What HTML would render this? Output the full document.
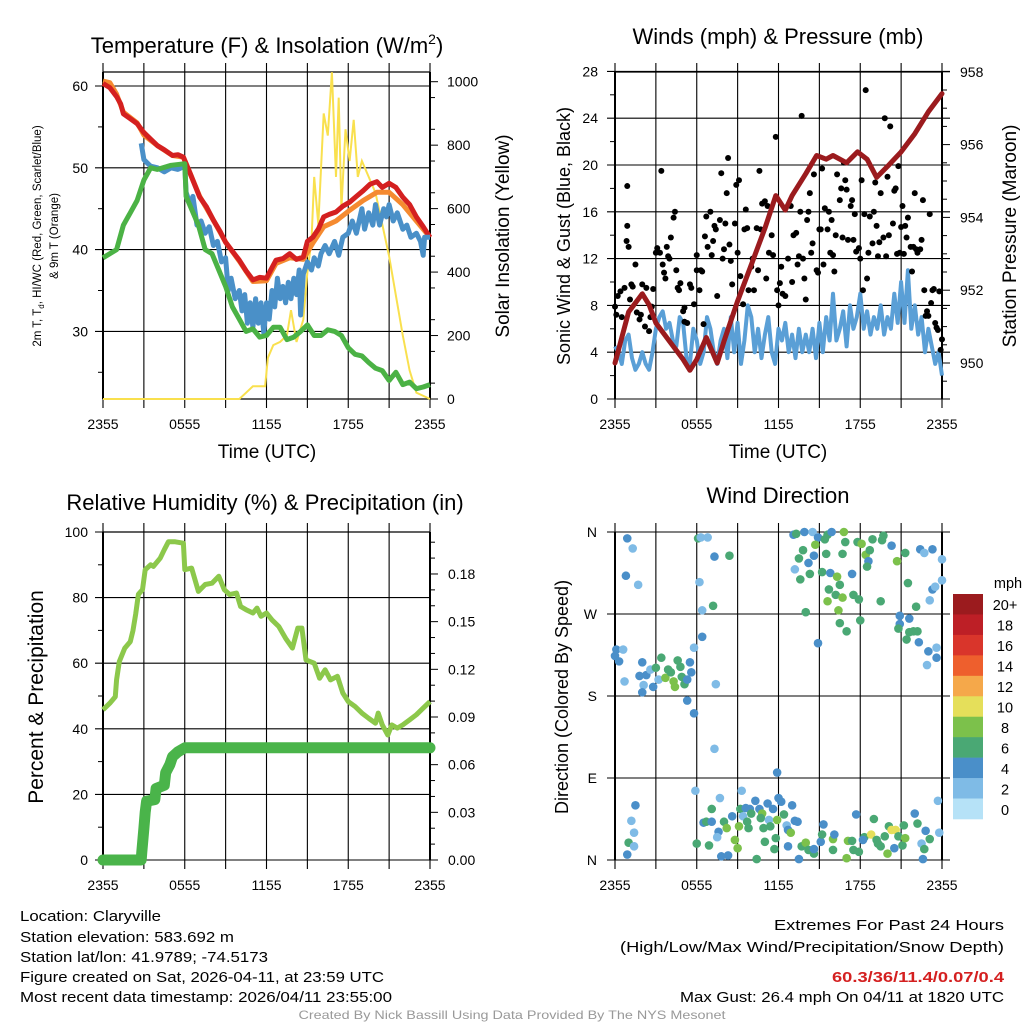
<!DOCTYPE html>
<html><head><meta charset="utf-8"><style>
html,body{margin:0;padding:0;background:#fff;}
svg{display:block;font-family:"Liberation Sans",sans-serif;}
</style></head><body>
<svg id="fig" width="1024" height="1024" viewBox="0 0 1024 1024" xmlns="http://www.w3.org/2000/svg"></svg>
<script>
// ---------- DATA ----------
const tickHours=[0,6,12,18,24];
const tickLabels=["2355","0555","1155","1755","2355"];
// Temperature panel
const redT=[0,0.5,1,1.3,1.5,2,2.5,3,3.5,4,4.5,5.1,5.5,5.9,6.4,7.1,7.6,8.1,8.6,9,9.5,10,10.5,11,11.5,12,12.4,12.7,13.2,13.7,14.2,14.7,15,15.4,15.8,16.2,16.6,17.1,17.6,18.1,18.6,19.1,19.6,20.1,20.5,21,21.5,22,22.5,23,23.5,24];
const redV=[60.3,59.8,58.7,57.8,56.6,56,55.4,54.3,53.5,52.7,52.2,51.5,51.6,51.3,49.3,46.4,45.2,43.6,42.2,40.9,39.8,38.7,37.4,36.3,36.6,36.5,37.8,38.7,38.9,39.5,38.8,39.1,41,41.5,42.5,44,44.3,44.6,45.3,45.8,46.5,47.2,48,48.3,47.6,48.1,47.6,46.4,45.5,44,42.8,41.5];
const orgT=[0,0.5,1,1.5,2.5,3,4,5.1,5.9,6.4,7.1,8.1,9,10,11,12,12.7,13.7,14.7,15.4,16.2,17.1,18.1,19.1,20.1,21,22,23,24];
const orgV=[60.6,60.4,59,56.8,55.5,54,52.7,51.5,51.3,49.3,46.5,43.6,40.9,38.6,36.1,36.2,38.3,39,38.8,40.8,42.8,43.5,44.8,46,47,47,45.5,43.5,41.5];
const bluT=[2.8,3.0,3.3,3.5,4,4.5,5,5.5,6,6.1,6.4,6.6,6.9,7.2,7.5,7.8,8.1,8.4,8.7,9.0,9.2,9.4,9.7,10.0,10.2,10.4,10.6,10.8,11.0,11.2,11.4,11.6,11.8,12.0,12.2,12.4,12.6,12.8,13.0,13.2,13.4,13.6,13.8,14.0,14.2,14.4,14.5,14.7,15.0,15.3,15.5,15.8,16,16.3,16.6,17,17.3,17.6,18,18.3,18.6,19,19.2,19.5,19.8,20,20.3,20.6,20.8,21,21.3,21.6,22,22.3,22.6,23,23.3,23.5,23.6,24];
const bluV=[53,51,50.5,50.2,50,49.5,50,49.8,50.2,47,45.5,46.5,43,43.5,42,42.8,40.5,41,38.5,39,35,36.5,34,35,32.5,34.5,31,33.5,30.5,34,31,33.5,29.8,33.5,31.5,35,33,36.5,34,35.5,33.5,36,34,36.5,34.5,37.5,32,37,38.5,37.5,39,38,39.5,40.5,39.5,41,39.3,41.5,42,43.5,42,45,42.5,44.5,43,45.5,43,45,44,45.5,43.5,44.5,42.5,43,41.5,42,41,39.3,41.5,41.5];
const grnT=[0,1,1.5,2,2.5,3,3.5,4,5,6,6.1,7,7.5,8,8.5,9,9.5,10,10.5,11,11.5,12,12.5,13,13.5,14,14.5,15,15.5,16,16.5,17,17.5,18,18.5,19,19.5,20,20.5,21,21.5,22,22.5,23,23.5,24];
const grnV=[39,40,43,44.5,46,48.5,50,49.8,50.3,50.5,46.5,43,40,39.5,37.5,35.5,33,31.5,30,30.3,29.3,29.5,30.5,30.5,29,29.3,30,30.8,29.5,29.5,30.2,30,29.5,28,27.2,27,26.2,25.5,25.2,24,25,23.5,23.8,23,23.2,23.5];
const solT=[0,10,10.5,11,11.9,12.1,12.5,13,13.5,13.8,14.2,14.7,15,15.3,15.5,15.8,16.2,16.5,16.8,17.1,17.3,17.5,17.8,18.1,18.4,18.7,19,19.5,20,21,22,22.5,23,24];
const solV=[0,0,20,40,40,130,170,180,200,280,180,250,400,500,700,550,900,830,1030,700,950,600,850,750,880,700,750,700,650,450,200,90,20,0];
// Winds panel
const windV=[4.5,4,3,5,5.5,3.5,2.5,3,4,3,2.5,4,6,7,7.5,6,6.5,5,4.5,7,6.5,3.5,3,6,5,3,4,7,6,4,3,5,6,3.5,7,4,6.5,3,5,8,7,4,6,3.5,5.5,7,4,3,6,5,6.5,4,5.5,3.5,6,4,5.5,4,6,3.5,6.5,4,7,5,9,5,6,7.5,4.5,8,6,7,9,6,7.5,5.5,7,6,8,5.5,7,6,9,6.5,10,6.5,11,6,8,5.5,7,4,6,4.5,3,4,2];
const gustT=[0,0.1,0.2,0.4,0.9,0.9,0.85,1.0,1.5,1.2,1.3,2.0,1.6,1.8,2.2,2.5,2.7,2.8,3.1,3.3,3.4,3.6,3.7,3.9,4.1,4.3,4.4,4.5,4.7,4.8,5.1,5.1,5.5,5.8,6.0,6.0,6.2,6.4,6.5,6.6,6.7,7.0,7.1,7.3,7.5,7.7,7.8,8.0,8.2,8.3,8.4,8.6,8.8,8.9,9.1,9.2,9.4,9.6,9.7,9.8,10.0,10.2,10.4,10.5,10.6,10.8,11.0,11.1,11.3,11.5,11.8,11.9,12.1,12.2,12.5,12.9,13.0,13.3,13.5,13.6,13.7,13.9,14.1,14.2,14.3,14.5,14.6,14.9,15.1,15.2,15.4,15.6,15.8,15.9,16.1,16.3,16.5,16.7,16.8,16.9,17.0,17.3,17.5,17.6,17.9,18.1,18.2,18.4,18.5,18.7,18.9,19.0,19.1,19.3,19.5,19.7,19.8,20.0,20.2,20.4,20.6,20.8,20.9,21.1,21.3,21.4,21.7,21.8,22.0,22.2,22.4,22.6,22.8,22.9,23.1,23.3,23.5,23.7,23.8,24.0,23.9,
0.5,0.7,1.1,1.9,2.3,2.6,3.0,3.5,3.8,4.0,4.6,5.0,5.3,5.6,6.3,6.8,7.2,7.4,7.9,8.1,8.5,9.0,9.5,10.1,10.7,11.2,11.6,12.0,12.3,12.7,13.1,13.4,13.8,14.0,14.4,14.8,15.0,15.3,15.7,16.0,16.2,16.6,17.1,17.4,17.7,18.0,18.3,18.6,19.2,19.4,19.9,20.1,20.5,20.7,21.0,21.2,21.5,21.9,22.1,22.5,22.7,23.0,23.2,23.6,23.4];
const gustV=[7.9,7.2,8.8,9.2,18.2,14.8,13.5,13,11.5,9.8,9.6,9.8,7.4,6.8,6.2,5.8,7.9,9.4,12.9,12.5,19.5,10.8,10.3,12.2,13.8,15.5,16,11,9.3,9.9,6.6,7.8,9.8,8.1,12.3,11,9.3,10.9,6.4,13.9,15.6,16,12.3,14.8,8.8,15.3,19.3,12.8,17.6,20.6,13.2,9.8,15,18.3,18.7,10.5,8.1,16.2,14.6,9.3,11.3,9.3,14.6,11,19.5,16.7,16.9,10.3,12.5,14,22.4,9.3,9.9,11.3,8.8,16.5,10,14.2,12.2,16,24.2,10.3,15.3,16,17.6,13.3,19.2,10.8,14.5,19.7,16.3,14.5,12.5,15.3,10.9,19.2,17,13.8,20.2,18.7,17.9,16.5,13.6,15.8,12.9,18.7,9.3,26.4,10.3,15.6,13.3,16,18.5,12.2,17.6,13.8,24,19,23.3,15,18,19.9,12.5,16.5,14.8,13.8,13,10.9,17.6,12.5,12.8,17,7.1,7.5,15.8,9.3,6.5,5.9,9.2,5.1,4.2,
7,9.5,8.5,7.2,9.5,7,12.5,11.5,13,12,9.5,7.5,6.5,9.5,11,13,13.5,14.5,12,15,11.8,12.5,14.5,12,14.5,16.5,12.3,8,9,12,14,11.5,12,8.5,12.5,11,14.5,11.5,16,12.3,14,18,13.6,17,12.6,12,15.8,12.5,14.8,13.4,12.2,14,17.8,12.4,14.7,12.4,15.5,13,12.8,13.6,9.3,7.1,8.2,6.1,9.4];
const presT=[0,1,2,2.5,3,4,5,5.5,6,6.7,7.5,8,9,10,11,11.8,12.5,13,14,14.8,15.5,16,17,17.8,18.5,19.2,20,21,22,23,24];
const presV=[950.0,951.4,951.9,951.6,951.1,950.6,950.1,949.8,950.1,950.7,950.0,950.6,951.7,952.7,953.7,954.6,954.2,954.6,955.2,955.7,955.6,955.7,955.5,955.8,955.6,955.1,955.4,955.8,956.3,956.9,957.4];
// RH panel
const rhT=[0,0.5,0.9,1.0,1.2,1.6,2.0,2.2,2.4,2.6,2.9,3.1,3.5,3.7,4.2,4.5,4.8,5.3,5.9,6.0,6.5,7.0,7.5,8.0,8.5,8.9,9.3,9.8,10.1,10.5,11.0,11.3,11.6,12.0,12.4,12.9,13.4,13.9,14.3,14.6,14.9,15.5,15.9,16.3,16.7,17.2,17.6,18.0,18.5,19.0,19.5,20.0,20.2,20.5,20.9,21.2,21.6,22.0,22.5,23.0,23.5,24.0];
const rhV=[45.8,47.8,49.8,55,60.5,64.6,66.6,70,75,81,82.4,88.5,90,89.5,92,94.6,97,97,96.6,88.5,89,81.9,84,84.4,86.5,82.4,80.9,81.4,77.3,76.3,75.3,76.8,74.3,75.3,73.2,71.2,67.6,64.6,70.7,70.7,61,60,55.4,58,54.9,56,50.9,48.3,46.8,44.8,43.2,41.7,44.8,41.2,38.1,41.2,40.2,41.2,42.7,44.3,46.3,48.3];
const prT=[0,2.8,2.85,3.0,3.1,3.2,3.8,3.9,4.5,4.6,4.9,5.1,5.5,6.0,24];
const prV=[0,0,0.005,0.02,0.03,0.037,0.038,0.045,0.047,0.055,0.06,0.065,0.068,0.0706,0.0706];
// Wind direction panel
const wdTime=[0.9,1.3,0.8,1.7,0,0.1,0.3,0.6,0.7,2.0,1.8,2.3,2.1,2.0,2.6,2.8,3.0,3.2,3.4,3.7,3.9,4.1,4.3,4.4,4.6,4.8,4.9,5.1,5.3,5.5,5.6,5.8,5.3,5.8,6.1,6.3,6.8,7.3,8.4,6.2,6.4,7.2,6.4,7.4,7.3,5.9,1.5,1.2,1.4,1.0,1.4,0.9,
6.5,6.7,7.1,7.1,7.7,6.0,6.9,7.6,7.5,7.8,8.3,8.0,8.2,8.6,8.8,9.0,9.1,9.3,9.2,9.4,9.6,9.7,9.8,9.9,10.0,10.3,10.4,10.6,10.8,10.7,10.9,11.0,11.2,11.3,11.4,11.6,11.9,11.8,11.7,12.0,12.2,12.4,12.6,12.7,12.9,13.0,12.7,13.2,13.4,13.5,13.7,14.0,14.2,14.6,14.6,15.1,15.2,15.3,16.0,16.1,16.0,17.1,17.0,17.4,17.7,17.5,17.9,18.3,18.2,18.8,19.0,19.2,19.3,19.5,19.8,20.0,20.1,20.3,20.5,20.6,20.8,21.1,21.3,21.2,22.0,22.2,22.5,22.6,22.7,22.8,23.1,23.8,23.7,11.9,
13.1,13.3,13.9,14.5,14.9,15.4,15.6,15.9,16.8,14.7,13.8,13.5,14.2,14.6,15.5,16.7,16.9,17.8,18.1,18.4,18.7,18.9,18.6,18.5,19.7,19.6,20.3,20.7,21.3,22.4,22.7,23.3,24.0,13.2,14.3,13.6,15.2,15.8,16.3,16.5,15.7,16.2,16.7,15.6,16.4,17.4,17.5,17.9,19.5,14.0,16.5,17.0,18.0,14.9,21.5,22.1,20.9,21.6,20.9,20.8,21.6,21.9,22.2,21.4,22.3,23.0,23.6,22.9,23.6,23.3,23.5,24.0,23.1];
const wdDir=[353,342,312,302,224,231,218,231,196,217,202,203,192,184,209,190,211,198,222,200,209,206,196,190,219,212,201,193,198,217,206,233,175,161,353,354,354,333,334,305,274,279,245,193,122,76,60,43,30,19,15,6,
41,42,42,56,68,18,16,31,25,4,5,42,35,48,22,13,37,76,56,48,57,42,35,56,51,65,1,56,51,46,35,20,62,44,37,56,44,24,12,68,64,50,38,33,30,60,15,43,42,1,15,19,11,7,12,20,28,39,23,28,11,21,2,21,50,11,9,25,22,28,45,22,18,15,26,7,37,33,13,33,26,16,24,38,51,40,18,1,12,32,23,30,65,96,
357,358,360,360,354,352,357,360,360,346,340,331,326,334,336,336,349,349,347,335,340,352,328,322,356,351,345,328,337,341,337,341,330,319,314,308,316,315,311,302,297,291,288,284,274,314,291,286,284,272,260,251,263,238,304,278,268,265,259,254,250,251,251,242,239,229,222,214,233,297,300,307,285];
const wdSpeed=[5,3,5,3,5,5,5,3,3,5,5,5,3,5,3,5,7,3,7,9,7,7,9,9,7,7,7,7,5,5,5,3,5,5,7,3,3,5,7,3,3,7,5,3,3,3,5,3,3,7,3,5,
5,7,5,7,3,7,7,5,3,5,5,7,9,5,9,9,9,3,7,3,5,7,7,5,7,5,7,5,9,7,7,7,5,3,7,5,9,7,7,5,5,7,3,5,9,5,5,5,5,5,7,9,7,7,5,5,7,5,9,5,7,9,9,7,5,7,7,7,5,11,7,7,7,7,7,9,7,11,5,11,7,7,9,7,5,7,3,5,7,5,7,3,3,5,
5,7,5,3,5,7,7,5,9,9,7,7,5,5,7,7,7,7,9,9,7,7,5,7,7,7,5,9,7,5,3,5,3,3,7,7,7,5,9,7,7,7,9,9,9,5,7,7,7,7,7,7,7,5,7,7,5,5,5,7,7,7,7,7,5,5,5,3,3,5,3,3,3];
const cbLabels=["20+","18","16","14","12","10","8","6","4","2","0"];
const cbColors=["#9b1b1e","#bd1f26","#d9352b","#ee5f2d","#f5a84a","#e5df5a","#7cc14b","#4aa874","#4a8fc9","#7fbbe6","#b6e2f7"];

// ---------- HELPERS ----------
const NS="http://www.w3.org/2000/svg";
const svg=document.getElementById('fig');
function mk(tag,attrs,parent){const e=document.createElementNS(NS,tag);for(const k in attrs)e.setAttribute(k,attrs[k]);(parent||svg).appendChild(e);return e;}
function txt(s,x,y,size,attrs,parent){const e=mk('text',Object.assign({x:x,y:y,'font-size':size,fill:'#000'},attrs||{}),parent);e.textContent=s;return e;}
function pathFrom(ts,vs,X,Y){let d='';for(let i=0;i<ts.length;i++)d+=(i?'L':'M')+X(ts[i]).toFixed(1)+' '+Y(vs[i]).toFixed(1);return d;}
function frame(){return mk('g',{});}
function vGrid(g,X,y0,y1){
  for(let h=0;h<=24;h+=3){mk('line',{x1:X(h),x2:X(h),y1:y0-9,y2:y1+9,stroke:'#000','stroke-width':1.1},g);}
}
function xLabels(g,X,y){
  for(let i=0;i<tickHours.length;i++){const t=txt(tickLabels[i],X(tickHours[i]),y,14,{'text-anchor':'middle'},g);
    
    }
}

// ================= PANEL 1: Temperature =================
(function(){
  const X=t=>103+t*13.625, Y=v=>86+(60-v)*8.18, YS=w=>399-w*0.3173;
  const g=frame();
  
  
  vGrid(g,X,72,399);
  for(let v=30;v<=60;v+=10){mk('line',{x1:95,x2:430,y1:Y(v),y2:Y(v),stroke:'#000','stroke-width':1.1},g);
    const t=txt(String(v),88,Y(v)+5,14,{'text-anchor':'end'},g);}
  for(let v=25;v<=55;v+=10)mk('line',{x1:98,x2:103,y1:Y(v),y2:Y(v),stroke:'#000'},g);
  for(let w=0;w<=1000;w+=200){mk('line',{x1:430,x2:438,y1:YS(w),y2:YS(w),stroke:'#000'},g);
    const t=txt(String(w),447,YS(w)+5,14,{},g);}
  for(let w=50;w<1000;w+=100)mk('line',{x1:430,x2:435,y1:YS(w),y2:YS(w),stroke:'#000'},g);
  mk('line',{x1:103,x2:430,y1:72,y2:72,stroke:'#000','stroke-width':1.2},g);
  mk('line',{x1:103,x2:430,y1:399,y2:399,stroke:'#000','stroke-width':1.2},g);
  mk('line',{x1:103,x2:103,y1:72,y2:399,stroke:'#000','stroke-width':2},g);
  mk('line',{x1:430,x2:430,y1:72,y2:399,stroke:'#000','stroke-width':2},g);
  const sol=mk('path',{d:pathFrom(solT,solV,X,YS),fill:'none',stroke:'#f9e04e','stroke-width':2},g);
  
  const og=mk('path',{d:pathFrom(orgT,orgV,X,Y),fill:'none',stroke:'#f58a30','stroke-width':5,'stroke-linejoin':'round'},g);
  
  const rd=mk('path',{d:pathFrom(redT,redV,X,Y),fill:'none',stroke:'#d42020','stroke-width':5,'stroke-linejoin':'round'},g);
  
  const bl=mk('path',{d:pathFrom(bluT,bluV,X,Y),fill:'none',stroke:'#4a90c8','stroke-width':5,'stroke-linejoin':'round'},g);
  
  const gr=mk('path',{d:pathFrom(grnT,grnV,X,Y),fill:'none',stroke:'#4bb245','stroke-width':5,'stroke-linejoin':'round'},g);
  
  xLabels(g,X,429);
  const ttl=txt('',267,53,22,{'text-anchor':'middle'},g);ttl.innerHTML='Temperature (F) &amp; Insolation (W/m<tspan dy="-9" font-size="14">2</tspan><tspan dy="9">)</tspan>';
  
  const xt=txt('Time (UTC)',267,458,19,{'text-anchor':'middle'},g);
  const yl=txt('',0,0,11.5,{'text-anchor':'middle',transform:'translate(41,236) rotate(-90)'},g);
  yl.innerHTML='2m T, T<tspan dy="3" font-size="8">d</tspan><tspan dy="-3">, HI/WC (Red, Green, Scarlet/Blue)</tspan>';
  
  const yl2=txt('& 9m T (Orange)',0,0,11.5,{'text-anchor':'middle',transform:'translate(58,236) rotate(-90)'},g);
  
  const yr=txt('Solar Insolation (Yellow)',0,0,19,{'text-anchor':'middle',transform:'translate(509,236) rotate(-90)'},g);
  
})();

// ================= PANEL 2: Winds =================
(function(){
  const X=t=>615+t*13.625, Y=v=>399-v*11.7, YP=p=>363-(p-950)*36.4;
  const g=frame();
  
  
  vGrid(g,X,72,399);
  for(let v=0;v<=28;v+=4){mk('line',{x1:607,x2:950,y1:Y(v),y2:Y(v),stroke:'#000','stroke-width':1.1},g);
    const t=txt(String(v),598,Y(v)+5,14,{'text-anchor':'end'},g);}
  for(let v=2;v<28;v+=4)mk('line',{x1:610,x2:615,y1:Y(v),y2:Y(v),stroke:'#000'},g);
  for(let p=950;p<=958;p+=2){mk('line',{x1:942,x2:950,y1:YP(p),y2:YP(p),stroke:'#000'},g);
    const t=txt(String(p),960,YP(p)+5,14,{},g);}
  for(let p=949.5;p<958;p+=0.5){if(p%2)mk('line',{x1:942,x2:947,y1:YP(p),y2:YP(p),stroke:'#000'},g);}
  mk('line',{x1:615,x2:942,y1:72,y2:72,stroke:'#000','stroke-width':1.2},g);
  mk('line',{x1:615,x2:615,y1:72,y2:399,stroke:'#000','stroke-width':2},g);
  mk('line',{x1:942,x2:942,y1:72,y2:399,stroke:'#000','stroke-width':2},g);
  const windT=windV.map((v,i)=>i*24/(windV.length-1));
  const wl=mk('path',{d:pathFrom(windT,windV,X,Y),fill:'none',stroke:'#5a9fd6','stroke-width':4,'stroke-linejoin':'round'},g);
  
  for(let i=0;i<gustT.length;i++){const c=mk('circle',{cx:X(gustT[i]),cy:Y(gustV[i]),r:3,fill:'#000'},g);
    
    }
  const pl=mk('path',{d:pathFrom(presT,presV,X,YP),fill:'none',stroke:'#9b1b1e','stroke-width':5,'stroke-linejoin':'round','stroke-linecap':'round'},g);
  
  xLabels(g,X,429);
  const ttl=txt('Winds (mph) & Pressure (mb)',778,44,22,{'text-anchor':'middle'},g);
  const xt=txt('Time (UTC)',778,458,19,{'text-anchor':'middle'},g);
  const yl=txt('Sonic Wind & Gust (Blue, Black)',0,0,18,{'text-anchor':'middle',transform:'translate(570,236) rotate(-90)'},g);
  
  const yr=txt('Station Pressure (Maroon)',0,0,19,{'text-anchor':'middle',transform:'translate(1016,236) rotate(-90)'},g);
  
})();

// ================= PANEL 3: RH & Precip =================
(function(){
  const X=t=>103+t*13.625, Y=v=>860-v*3.28, YP=p=>860-p*1589;
  const g=frame();
  
  
  vGrid(g,X,532,860);
  for(let v=0;v<=100;v+=20){mk('line',{x1:95,x2:430,y1:Y(v),y2:Y(v),stroke:'#000','stroke-width':1.1},g);
    const t=txt(String(v),88,Y(v)+5,14,{'text-anchor':'end'},g);}
  for(let v=10;v<100;v+=20)mk('line',{x1:98,x2:103,y1:Y(v),y2:Y(v),stroke:'#000'},g);
  for(let k=0;k<=6;k++){const p=k*0.03;mk('line',{x1:430,x2:438,y1:YP(p),y2:YP(p),stroke:'#000'},g);
    const t=txt(p.toFixed(2),448,YP(p)+5,14,{},g);}
  for(let k=1;k<=20;k++){if(k%3)mk('line',{x1:430,x2:435,y1:YP(k*0.01),y2:YP(k*0.01),stroke:'#000'},g);}
  mk('line',{x1:103,x2:430,y1:532,y2:532,stroke:'#000','stroke-width':1.2},g);
  mk('line',{x1:103,x2:103,y1:532,y2:860,stroke:'#000','stroke-width':2},g);
  mk('line',{x1:430,x2:430,y1:532,y2:860,stroke:'#000','stroke-width':2},g);
  const rh=mk('path',{d:pathFrom(rhT,rhV,X,Y),fill:'none',stroke:'#8cc84b','stroke-width':5,'stroke-linejoin':'round'},g);
  
  const pr=mk('path',{d:pathFrom(prT,prV,X,YP),fill:'none',stroke:'#4ab44a','stroke-width':11,'stroke-linejoin':'round','stroke-linecap':'round'},g);
  
  xLabels(g,X,890);
  const ttl=txt('Relative Humidity (%) & Precipitation (in)',265,510,22,{'text-anchor':'middle'},g);
  const yl=txt('Percent & Precipitation',0,0,21,{'text-anchor':'middle',transform:'translate(43,697) rotate(-90)'},g);
  
})();

// ================= PANEL 4: Wind Direction =================
(function(){
  const X=t=>615+t*13.625, Y=d=>860-d*0.9111;
  const g=frame();
  
  
  vGrid(g,X,532,860);
  const dl=["N","E","S","W","N"];
  for(let i=0;i<5;i++){const d=i*90;mk('line',{x1:607,x2:950,y1:Y(d),y2:Y(d),stroke:'#000','stroke-width':1.1},g);
    const t=txt(dl[i],597,Y(d)+5,14,{'text-anchor':'end'},g);}
  mk('line',{x1:615,x2:615,y1:532,y2:860,stroke:'#000','stroke-width':2},g);
  mk('line',{x1:942,x2:942,y1:532,y2:860,stroke:'#000','stroke-width':2},g);
  for(let i=0;i<wdTime.length;i++){
    const idx=Math.min(10,Math.floor(wdSpeed[i]/2));
    const c=mk('circle',{cx:X(wdTime[i]),cy:Y(wdDir[i]),r:4.3,fill:cbColors[10-idx]},g);
    
    
  }
  xLabels(g,X,890);
  const ttl=txt('Wind Direction',778,503,22,{'text-anchor':'middle'},g);
  const yl=txt('Direction (Colored By Speed)',0,0,18,{'text-anchor':'middle',transform:'translate(568,697) rotate(-90)'},g);
  
  const cb=mk('g',{},g);
  
  
  const bh=225/11;
  for(let i=0;i<11;i++){mk('rect',{x:953,y:594+i*bh,width:30,height:bh+0.3,fill:cbColors[i]},cb);
    const t=txt(cbLabels[i],1005,594+i*bh+bh/2+6,14.5,{'text-anchor':'middle'},cb);}
  const u=txt('mph',1008,588,14.5,{'text-anchor':'middle'},cb);
})();

// ================= FOOTER =================
(function(){
  const g=frame();
  
  
  const L=[["Location: Claryville",141],["Station elevation: 583.692 m",214],["Station lat/lon: 41.9789; -74.5173",248],["Figure created on Sat, 2026-04-11, at 23:59 UTC",364],["Most recent data timestamp: 2026/04/11 23:55:00",372]];
  const ys=[921,942,962,982,1002];
  for(let i=0;i<L.length;i++){const t=txt(L[i][0],20,ys[i],14.5,{textLength:L[i][1],lengthAdjust:'spacingAndGlyphs'},g);}
  const R=[["Extremes For Past 24 Hours",930,230,'#000'],["(High/Low/Max Wind/Precipitation/Snow Depth)",952,384,'#000'],["60.3/36/11.4/0.07/0.4",982,172,'#d42020'],["Max Gust: 26.4 mph On 04/11 at 1820 UTC",1002,324,'#000']];
  for(const r of R){const t=txt(r[0],1004,r[1],14.5,{'text-anchor':'end',fill:r[3],textLength:r[2],lengthAdjust:'spacingAndGlyphs','font-weight':r[3]=='#000'?'normal':'bold'},g);}
  const c=txt('Created By Nick Bassill Using Data Provided By The NYS Mesonet',512,1019,12,{'text-anchor':'middle',fill:'#999',textLength:427,lengthAdjust:'spacingAndGlyphs'},g);
  
})();
</script>
</body></html>
